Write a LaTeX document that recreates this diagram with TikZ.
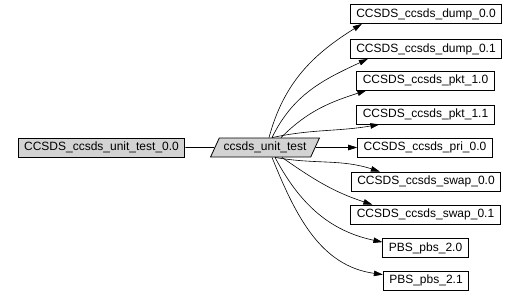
\documentclass[tikz,border=0pt]{standalone}
\usepackage{fontspec}
\setmainfont{Liberation Sans}
\usepackage{xcolor}
\usetikzlibrary{arrows.meta,shapes.geometric,calc}

\definecolor{nodegray}{RGB}{211,211,211}

\begin{document}
\begin{tikzpicture}[
  x=1pt, y=-1pt,
  font=\fontsize{12}{14}\selectfont,
  box/.style={draw, line width=0.8pt, minimum height=19pt, inner xsep=6pt, inner ysep=2pt},
  root/.style={box, fill=nodegray},
  unit/.style={draw, line width=0.8pt, fill=nodegray, trapezium, trapezium left angle=65,
    trapezium right angle=115, trapezium stretches=true, minimum width=109pt, minimum height=19pt, inner xsep=2pt},
  dep/.style={box, fill=white},
  arr/.style={-{Triangle[length=9pt,width=5.5pt]}, line width=0.6pt}
]
\useasboundingbox (0,0) rectangle (519,297);

% --- source side
\node[root] (top) at (101.5,147.5) {CCSDS\_ccsds\_unit\_test\_0.0};
\node[unit] (u) at (265,147.5) {ccsds\_unit\_test};
\draw[line width=0.6pt] (top) -- (u);

% --- dependencies
\node[dep] (d00) at (426,14) {CCSDS\_ccsds\_dump\_0.0};
\node[dep] (d01) at (426,49) {CCSDS\_ccsds\_dump\_0.1};
\node[dep] (p10) at (425.5,80.5) {CCSDS\_ccsds\_pkt\_1.0};
\node[dep] (p11) at (425.5,114.5) {CCSDS\_ccsds\_pkt\_1.1};
\node[dep] (pri) at (425,147.5) {CCSDS\_ccsds\_pri\_0.0};
\node[dep] (s00) at (426,181.5) {CCSDS\_ccsds\_swap\_0.0};
\node[dep] (s01) at (425.5,214.5) {CCSDS\_ccsds\_swap\_0.1};
\node[dep] (b20) at (425.5,248) {PBS\_pbs\_2.0};
\node[dep] (b21) at (426,280.5) {PBS\_pbs\_2.1};

\draw[arr] ([xshift=4pt]u.north) to[out=75,in=212] ([xshift=12pt]d00.south west);
\draw[arr] ([xshift=7pt]u.north) to[out=64,in=205] ([xshift=18pt]d01.south west);
\draw[arr] ([xshift=16pt]u.north) to[out=45,in=198] ([xshift=10pt]p10.south west);
\draw[arr] ([xshift=-3pt]u.north east) to[out=12,in=190] ([xshift=23pt]p11.south west);
\draw[arr] (u.east) -- (pri.west);
\draw[arr] (u.south east) to[out=-10,in=162] ([xshift=29pt]s00.north west);
\draw[arr] ([xshift=17pt]u.south) to[out=-35,in=162] ([xshift=22pt]s01.north west);
\draw[arr] ([xshift=10pt]u.south) to[out=-62,in=168] ([yshift=-4pt]b20.north west);
\draw[arr] ([xshift=7pt]u.south) to[out=-68,in=172] ([yshift=-4pt]b21.north west);
\end{tikzpicture}
\end{document}
